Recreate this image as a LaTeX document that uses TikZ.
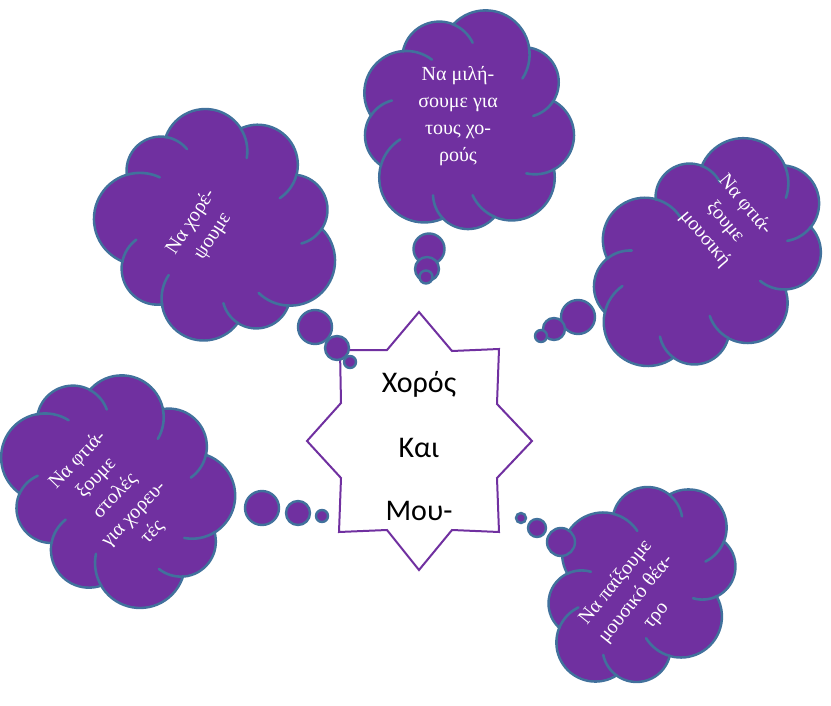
\documentclass[tikz,border=0pt]{standalone}
\usepackage{fontspec}
\setmainfont{Liberation Serif}
\newfontfamily\starfont{Carlito}
\definecolor{vio}{HTML}{7030A0}
\definecolor{edgeblue}{HTML}{41719C}
\tikzset{cloudedge/.style={draw=edgeblue, line width=2.6pt, line cap=round}}
% #1 centre, #2 rotation, #3/#4 semi-axes of the ring of puff centres,
% #5 puff angles, #6 puff radii, #7 length (deg) of the inner arcs
\newcommand\cloudbody[7]{%
\begin{scope}[shift={#1}, rotate=#2]
 \pgfmathtruncatemacro\cN{dim(#5)}
 \foreach \i in {1,...,\cN}{
   \pgfmathtruncatemacro\cJ{\i-1}
   \pgfmathsetmacro\cA{#5[\cJ]}
   \pgfmathsetmacro\cR{#6[\cJ]}
   \draw[cloudedge, fill=vio] (\cA:#3 and #4) circle[radius=\cR];
 }
 \foreach \i in {1,...,\cN}{
   \pgfmathtruncatemacro\cJ{\i-1}
   \pgfmathsetmacro\cA{#5[\cJ]}
   \pgfmathsetmacro\cR{#6[\cJ]-1.4}
   \fill[vio] (\cA:#3 and #4) circle[radius=\cR];
 }
 \fill[vio] (0,0) ellipse[x radius=#3, y radius=#4];
 \foreach \i in {1,...,\cN}{
   \pgfmathtruncatemacro\cJ{\i-1}
   \pgfmathtruncatemacro\cK{mod(\i,\cN)}
   \pgfmathsetmacro\cA{#5[\cJ]}
   \pgfmathsetmacro\cR{#6[\cJ]}
   \pgfmathsetmacro\cAn{#5[\cK]}
   \pgfmathsetmacro\cRn{#6[\cK]}
   \pgfmathsetmacro\cXa{#3*cos(\cA)}
   \pgfmathsetmacro\cYa{#4*sin(\cA)}
   \pgfmathsetmacro\cXb{#3*cos(\cAn)}
   \pgfmathsetmacro\cYb{#4*sin(\cAn)}
   \pgfmathsetmacro\cD{veclen(\cXb-\cXa,\cYb-\cYa)}
   \pgfmathsetmacro\cAl{atan2(\cYb-\cYa,\cXb-\cXa)}
   \pgfmathsetmacro\cBe{acos(max(-1,min(1,(\cD*\cD+\cR*\cR-\cRn*\cRn)/(2*\cD*\cR))))}
   \pgfmathsetmacro\cS{\cAl-\cBe}
   \draw[cloudedge] (\cXa,\cYa) ++(\cS:\cR) arc[start angle=\cS, delta angle=#7, radius=\cR];
 }
\end{scope}}
\begin{document}
\begin{tikzpicture}[x=1pt,y=-1pt,
  puff/.style={circle, fill=vio, draw=edgeblue, line width=2.4pt, inner sep=0pt},
  idea/.style={text=white, align=center, font=\fontsize{20}{26}\selectfont},
  startext/.style={anchor=base, font=\starfont\fontsize{30}{36}\selectfont}]
\useasboundingbox (0,0) rectangle (831,706);

% central star
\draw[vio, line width=2pt, fill=white] (419,312) -- (452,351) -- (499,349) -- (497,404) -- (532,441) -- (497,478) -- (499,532) -- (452,530) -- (419,570) -- (387,530) -- (339,532) -- (341,478) -- (307,441) -- (341,403) -- (340,350) -- (387,350) -- cycle;
\node[startext] (t1) at (419,392) {Χορός};
\node[startext] (t2) at (419,457) {Και};
\node[startext] (t3) at (419,520) {Μου-};

% cloud 1 (top left)
\cloudbody{(218,226)}{57}{73}{80}{{0,42,82,120,160,200,240,282,320}}{{40,35,45,34,42,36,46,34,42}}{42}
\node[idea, rotate=57] (c1t) at (202,229) {Να χορέ-\\ψουμε};
\node[puff, minimum size=34pt] (c1a) at (315,327) {};
\node[puff, minimum size=24pt] (c1b) at (337,348) {};
\node[puff, minimum size=12pt] (c1c) at (350,362) {};

% cloud 2 (top)
\cloudbody{(468,123)}{0}{68}{71}{{10,50,90,130,170,205,245,285,325}}{{39,43,35,45,36,42,37,44,35}}{42}
\node[idea, font=\fontsize{20}{27}\selectfont] (c2t) at (458,116) {Να μιλή-\\σουμε για\\τους χο-\\ρούς};
\node[puff, minimum size=31pt] (c2a) at (429,249) {};
\node[puff, minimum size=24pt] (c2b) at (427,269) {};
\node[puff, minimum size=13pt] (c2c) at (426,277) {};

% cloud 3 (right)
\cloudbody{(709,257)}{-50}{60}{90}{{0,40,80,118,155,195,235,275,318}}{{40,35,44,36,42,34,45,38,37}}{42}
\node[idea, rotate=-50] (c3t) at (725,222) {Να φτιά-\\ξουμε\\μουσική};
\node[puff, minimum size=34pt] (c3a) at (578,317) {};
\node[puff, minimum size=22pt] (c3b) at (554,329) {};
\node[puff, minimum size=12pt] (c3c) at (541,336) {};

% cloud 4 (left)
\cloudbody{(118,489)}{46}{66}{82}{{5,45,85,125,165,205,245,285,325}}{{38,43,35,45,38,35,44,36,42}}{42}
\node[idea, rotate=46] (c4t) at (115,496) {Να φτιά-\\ξουμε\\στολές\\για χορευ-\\τές};
\node[puff, minimum size=34pt] (c4a) at (262,508) {};
\node[puff, minimum size=24pt] (c4b) at (298,513) {};
\node[puff, minimum size=12pt] (c4c) at (322,516) {};

% cloud 5 (bottom right)
\cloudbody{(642,585)}{51}{74}{50}{{0,45,90,135,180,225,270,315}}{{38,33,41,34,39,33,41,35}}{42}
\node[idea, rotate=51] (c5t) at (636,599) {Να παίξουμε\\μουσικό θέα-\\τρο};
\node[puff, minimum size=28pt] (c5a) at (561,542) {};
\node[puff, minimum size=18pt] (c5b) at (537,528) {};
\node[puff, minimum size=10pt] (c5c) at (521,518) {};
\end{tikzpicture}
\end{document}
